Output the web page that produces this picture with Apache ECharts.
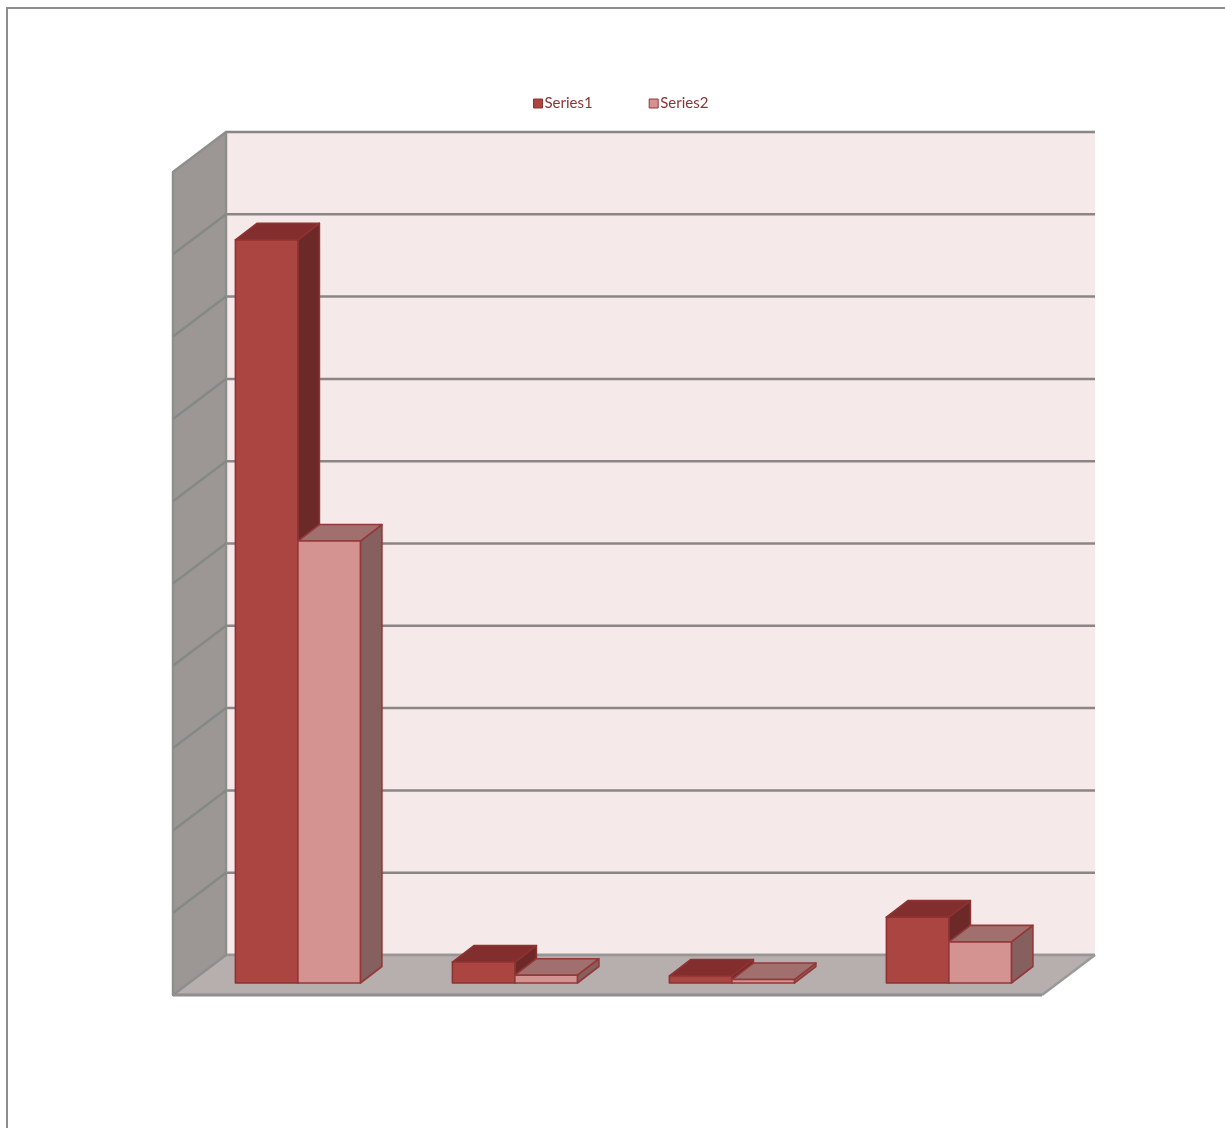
<!DOCTYPE html>
<html>
<head>
<meta charset="utf-8">
<style>html,body{margin:0;padding:0;background:#fff;overflow:hidden}#c{width:1225px;height:1128px}</style>
<script src="https://cdn.jsdelivr.net/npm/echarts@6/dist/echarts.min.js"></script>
</head>
<body>
<div id="c"></div>
<script>
const categories = ['1', '2', '3', '4'];
const series1 = [903, 25.5, 8.5, 80];
const series2 = [537, 9.5, 4.2, 50];
const gridTicks = [0, 100, 200, 300, 400, 500, 600, 700, 800, 900, 1000];

const DEPTH = [53, -40];         // floor/wall depth offset
const BAR_START = [16.4, -12];   // where the bars' front faces sit
const BAR_DEPTH = [21.5, -16.5]; // depth of each bar
const BAR_FRACTION = 0.288;
const FLOOR_EXTRA = 1;

const GREY = '#8a8686';
const styles = {
  s1: {front: '#ab4541', top: '#832e2e', side: '#6d2927', stroke: '#8e3332'},
  s2: {front: '#d49391', top: '#a06f6e', side: '#85605f', stroke: '#943838'}
};

function poly(points, fill, stroke, lw) {
  return {type: 'polygon', shape: {points}, style: {fill, stroke: stroke || 'none', lineWidth: lw || 0, lineJoin: 'round'}};
}
function line(x1, y1, x2, y2, color, lw) {
  return {type: 'line', shape: {x1, y1, x2, y2}, style: {stroke: color, lineWidth: lw}};
}

function renderWalls(params, api) {
  if (params.dataIndex !== 0) return null;
  const cs = params.coordSys;
  const L = cs.x, R = cs.x + cs.width + FLOOR_EXTRA;
  const base = api.coord([0, 0])[1];
  const top = api.coord([0, gridTicks[gridTicks.length - 1]])[1];
  const dx = DEPTH[0], dy = DEPTH[1];
  const kids = [];
  kids.push(poly([[L + dx, top + dy], [R + dx, top + dy], [R + dx, base + dy], [L + dx, base + dy]], '#f5e9e9'));
  gridTicks.forEach(t => {
    const y = api.coord([0, t])[1] + dy;
    kids.push(line(L + dx, y, R + dx, y, GREY, 2.5));
  });
  kids.push(poly([[L, base], [R, base], [R + dx, base + dy], [L + dx, base + dy]], '#b7aeae'));
  kids.push(line(L + dx, base + dy, R + dx, base + dy, '#9a9696', 2.5));
  kids.push(line(R, base, R + dx, base + dy, '#9a9a9a', 2.5));
  kids.push(poly([[L, base], [L + dx, base + dy], [L + dx, top + dy], [L, top]], '#9c9795', '#8c8f8c', 2.5));
  gridTicks.slice(1, -1).forEach(t => {
    const y = api.coord([0, t])[1];
    kids.push(line(L, y, L + dx, y + dy, '#858985', 2.5));
  });
  kids.push(line(L, base, R, base, '#8f8f8f', 3));
  return {type: 'group', children: kids};
}

function barRenderer(st, side) {
  return function (params, api) {
    const idx = api.value(0), val = api.value(1);
    const zero = api.coord([idx, 0]);
    const tip = api.coord([idx, val]);
    const w = api.size([1, 0])[0] * BAR_FRACTION;
    const cx = zero[0] + BAR_START[0];
    const x0 = side === 0 ? cx - w : cx;
    const x1 = x0 + w;
    const yb = zero[1] + BAR_START[1];
    const yt = tip[1] + BAR_START[1];
    const dx = BAR_DEPTH[0], dy = BAR_DEPTH[1];
    return {type: 'group', children: [
      poly([[x1, yt], [x1 + dx, yt + dy], [x1 + dx, yb + dy], [x1, yb]], st.side, st.stroke, 1.6),
      poly([[x0, yt], [x0 + dx, yt + dy], [x1 + dx, yt + dy], [x1, yt]], st.top, st.stroke, 1.6),
      poly([[x0, yt], [x1, yt], [x1, yb], [x0, yb]], st.front, st.stroke, 1.6)
    ]};
  };
}

const chart = echarts.init(document.getElementById('c'), null, {renderer: 'canvas'});
chart.setOption({
  animation: false,
  backgroundColor: '#ffffff',
  graphic: [{type: 'rect', silent: true, z: -10, shape: {x: 7, y: 8, width: 1400, height: 1400},
             style: {fill: 'none', stroke: '#8c8c8c', lineWidth: 2}}],
  legend: {
    left: 533, top: 96, padding: 0, itemWidth: 9, itemHeight: 9, itemGap: 56,
    icon: 'rect',
    data: ['Series1', 'Series2'],
    itemStyle: {borderWidth: 1},
    textStyle: {color: '#8a3535', fontFamily: 'Lato', fontSize: 15, padding: [0, 0, 0, -3]}
  },
  grid: {left: 173, top: 172, width: 868, height: 823, containLabel: false},
  xAxis: {type: 'category', data: categories, show: false},
  yAxis: {type: 'value', min: 0, max: 1000, interval: 100, show: false},
  series: [
    {type: 'custom', name: 'walls', silent: true, z: 1, renderItem: renderWalls,
     data: categories.map((c, i) => [i, 0]), encode: {x: 0, y: 1}},
    {type: 'custom', name: 'Series1', z: 2, renderItem: barRenderer(styles.s1, 0),
     itemStyle: {color: styles.s1.front, borderColor: styles.s1.stroke},
     data: series1.map((v, i) => [i, v]), encode: {x: 0, y: 1}},
    {type: 'custom', name: 'Series2', z: 3, renderItem: barRenderer(styles.s2, 1),
     itemStyle: {color: styles.s2.front, borderColor: styles.s2.stroke},
     data: series2.map((v, i) => [i, v]), encode: {x: 0, y: 1}}
  ]
});
</script>
</body>
</html>
